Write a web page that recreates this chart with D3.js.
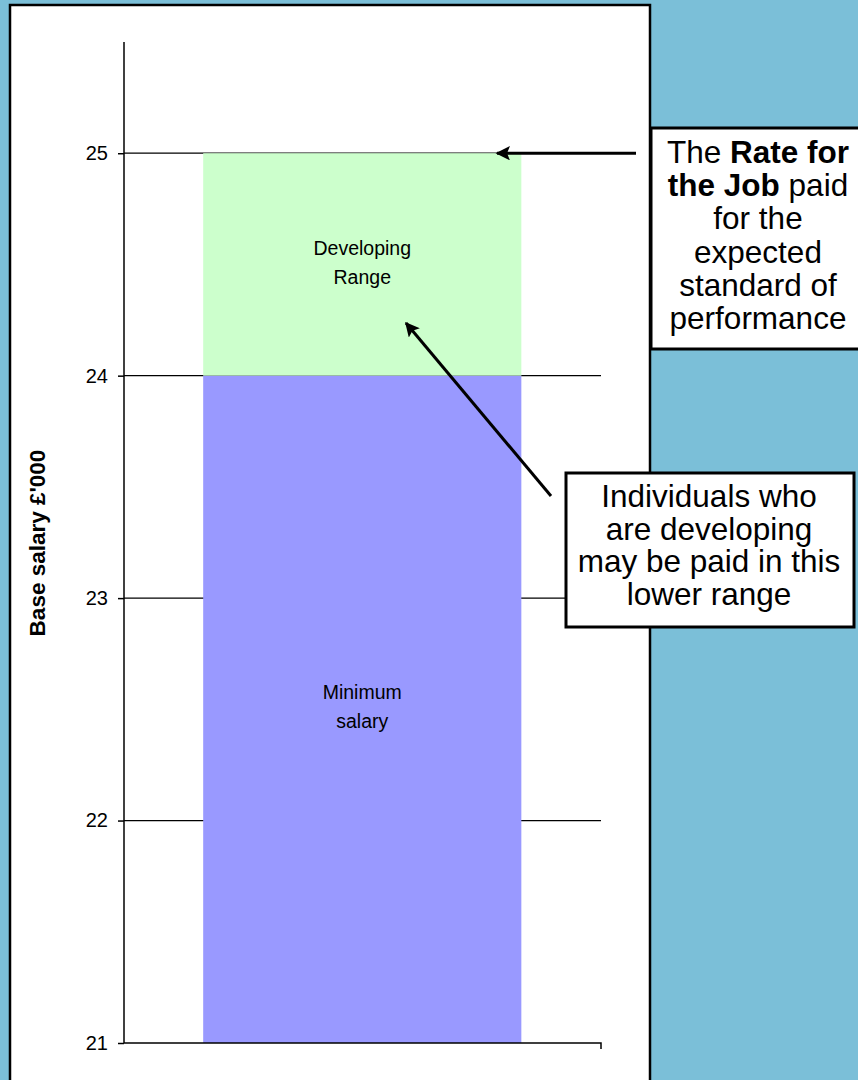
<!DOCTYPE html>
<html>
<head>
<meta charset="utf-8">
<script src="https://cdn.jsdelivr.net/npm/d3@7"></script>
<style>
  html, body { margin: 0; padding: 0; background: #7bbfd8; }
  svg { display: block; font-family: "Liberation Sans", Arial, sans-serif; }
</style>
</head>
<body>
<svg id="chart" width="858" height="1080"></svg>
<script>
// Salary band segments (values in £'000)
const segments = ["Minimum salary", "Developing Range"];
const segmentLow = [21, 24];
const segmentHigh = [24, 25];
const segmentColors = ["#9999ff", "#ccffcc"];
const segmentLabelLines = [["Minimum", "salary"], ["Developing", "Range"]];
const yTicks = [21, 22, 23, 24, 25];
const yDomain = [21, 25.5];
const axisTitle = "Base salary £'000";

const svg = d3.select("#chart");

// white chart panel
svg.append("rect")
  .attr("x", 10).attr("y", 5).attr("width", 640).attr("height", 1090)
  .attr("fill", "#fff").attr("stroke", "#000").attr("stroke-width", 2.5);

const plot = { left: 124, right: 601, top: 42, bottom: 1043 };

const y = d3.scaleLinear().domain(yDomain).range([plot.bottom, plot.top]);
const x = d3.scaleBand().domain(["band"]).range([plot.left, plot.right]).paddingInner(0).paddingOuter(0.5);
// bar occupies the middle two thirds of the category width
const barX0 = plot.left + (plot.right - plot.left) * 0.166;
const barX1 = plot.left + (plot.right - plot.left) * 0.833;

// gridlines
svg.append("g")
  .selectAll("line")
  .data(yTicks.filter(t => t !== yDomain[0]))
  .join("line")
  .attr("x1", plot.left).attr("x2", plot.right)
  .attr("y1", d => y(d)).attr("y2", d => y(d))
  .attr("stroke", "#000").attr("stroke-width", 1.2);

// stacked band
svg.append("g")
  .selectAll("rect")
  .data(segments)
  .join("rect")
  .attr("x", barX0)
  .attr("width", barX1 - barX0)
  .attr("y", (d, i) => y(segmentHigh[i]))
  .attr("height", (d, i) => y(segmentLow[i]) - y(segmentHigh[i]))
  .attr("fill", (d, i) => segmentColors[i]);

// segment labels
segments.forEach((s, i) => {
  const t = svg.append("text")
    .attr("text-anchor", "middle")
    .attr("font-size", 19.5)
    .attr("fill", "#000");
  segmentLabelLines[i].forEach((line, k) => {
    t.append("tspan").attr("x", (barX0 + barX1) / 2)
      .attr("y", y(segmentHigh[i]) + (i === 0 ? 323 : 102) + k * 29)
      .text(line);
  });
});

// y axis
const yAxis = d3.axisLeft(y).tickValues(yTicks).tickSize(6).tickPadding(10).tickFormat(d3.format("d"));
const gy = svg.append("g").attr("transform", `translate(${plot.left},0)`).call(yAxis);
gy.select(".domain").attr("d", `M0,${plot.top}V${plot.bottom}`).attr("stroke", "#000").attr("stroke-width", 1.5);
gy.selectAll(".tick line").attr("stroke", "#000").attr("stroke-width", 1.5);
gy.selectAll(".tick text").attr("font-size", 20).attr("font-family", "Liberation Sans, Arial, sans-serif").attr("fill", "#000");

// x axis baseline
const xAxis = d3.axisBottom(x).tickSize(0).tickFormat("");
const gx = svg.append("g").attr("transform", `translate(0,${plot.bottom})`).call(xAxis);
gx.select(".domain").attr("d", `M${plot.left},0H${plot.right}V6`).attr("stroke", "#000").attr("stroke-width", 1.5).attr("fill", "none");

// axis title
svg.append("text")
  .attr("transform", `translate(45,543) rotate(-90)`)
  .attr("text-anchor", "middle")
  .attr("font-size", 22.5)
  .attr("font-weight", "bold")
  .text(axisTitle);

// arrow marker
svg.append("defs").append("marker")
  .attr("id", "head").attr("viewBox", "0 0 10 10")
  .attr("refX", 9).attr("refY", 5)
  .attr("markerWidth", 5.4).attr("markerHeight", 4.8)
  .attr("markerUnits", "strokeWidth")
  .attr("orient", "auto")
  .append("path").attr("d", "M0,0L10,5L0,10L2,5Z").attr("fill", "#000");

svg.append("line")
  .attr("x1", 636).attr("y1", y(25)).attr("x2", 497).attr("y2", y(25))
  .attr("stroke", "#000").attr("stroke-width", 3).attr("marker-end", "url(#head)");

svg.append("line")
  .attr("x1", 551).attr("y1", 496).attr("x2", 406).attr("y2", 323)
  .attr("stroke", "#000").attr("stroke-width", 3).attr("marker-end", "url(#head)");

// callout boxes
function callout(x0, y0, w, h, cx, firstY, lh, size, lines) {
  svg.append("rect").attr("x", x0).attr("y", y0).attr("width", w).attr("height", h)
    .attr("fill", "#fff").attr("stroke", "#000").attr("stroke-width", 3);
  const t = svg.append("text").attr("text-anchor", "middle").attr("font-size", size).attr("fill", "#000");
  lines.forEach((parts, k) => {
    const ts = t.append("tspan").attr("x", cx).attr("y", firstY + k * lh);
    parts.forEach(p => {
      ts.append("tspan").attr("font-weight", p.b ? "bold" : null).text(p.t);
    });
  });
}

callout(651, 128, 220, 221, 758, 163, 33.2, 31.5, [
  [{ t: "The " }, { t: "Rate for", b: true }],
  [{ t: "the Job", b: true }, { t: " paid" }],
  [{ t: "for the" }],
  [{ t: "expected" }],
  [{ t: "standard of" }],
  [{ t: "performance" }]
]);

callout(566, 473, 288, 154, 709, 507, 32.7, 31.5, [
  [{ t: "Individuals who" }],
  [{ t: "are developing" }],
  [{ t: "may be paid in this" }],
  [{ t: "lower range" }]
]);
</script>
</body>
</html>
